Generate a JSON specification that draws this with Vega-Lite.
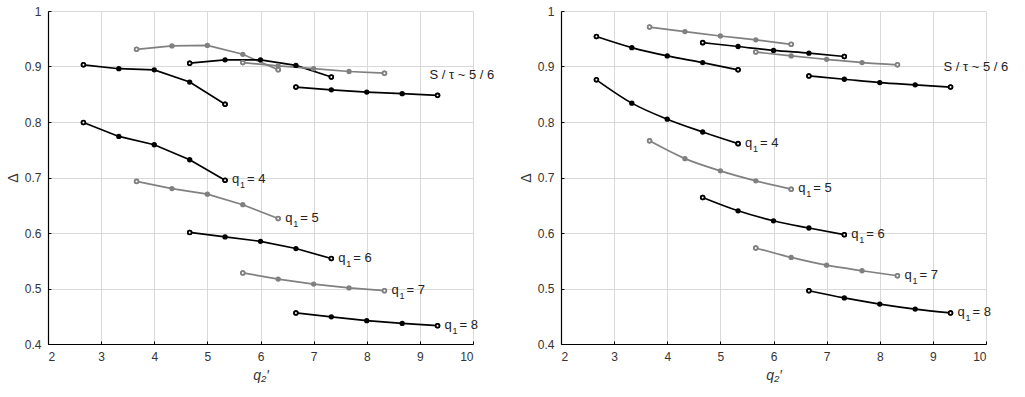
{
  "$schema": "https://vega.github.io/schema/vega-lite/v6.json",
  "background": "white",
  "padding": {"left": 6, "top": 5, "right": 5, "bottom": 5},
  "spacing": 88,
  "bounds": "flush",
  "config": {
    "view": {"stroke": null},
    "font": "Liberation Sans",
    "axis": {
      "domainColor": "#000000", "domainWidth": 1.2,
      "tickColor": "#000000", "tickSize": -3, "tickWidth": 1,
      "gridColor": "#d9d9d9", "gridWidth": 1,
      "labelFont": "Liberation Sans", "labelFontSize": 12, "labelColor": "#333333",
      "titleFont": "Liberation Sans", "titleFontWeight": "normal", "titleColor": "#333333"
    }
  },
  "datasets": {
    "pts": [
      {"panel": "L", "series": "A", "tone": "dark", "q2": 2.667, "delta": 0.903},
      {"panel": "L", "series": "A", "tone": "dark", "q2": 3.333, "delta": 0.896},
      {"panel": "L", "series": "A", "tone": "dark", "q2": 4.0, "delta": 0.894},
      {"panel": "L", "series": "A", "tone": "dark", "q2": 4.667, "delta": 0.872},
      {"panel": "L", "series": "A", "tone": "dark", "q2": 5.333, "delta": 0.832},
      {"panel": "L", "series": "B", "tone": "light", "q2": 3.667, "delta": 0.931},
      {"panel": "L", "series": "B", "tone": "light", "q2": 4.333, "delta": 0.937},
      {"panel": "L", "series": "B", "tone": "light", "q2": 5.0, "delta": 0.938},
      {"panel": "L", "series": "B", "tone": "light", "q2": 5.667, "delta": 0.922},
      {"panel": "L", "series": "B", "tone": "light", "q2": 6.333, "delta": 0.894},
      {"panel": "L", "series": "C", "tone": "dark", "q2": 4.667, "delta": 0.906},
      {"panel": "L", "series": "C", "tone": "dark", "q2": 5.333, "delta": 0.912},
      {"panel": "L", "series": "C", "tone": "dark", "q2": 6.0, "delta": 0.912},
      {"panel": "L", "series": "C", "tone": "dark", "q2": 6.667, "delta": 0.902},
      {"panel": "L", "series": "C", "tone": "dark", "q2": 7.333, "delta": 0.881},
      {"panel": "L", "series": "D", "tone": "light", "q2": 5.667, "delta": 0.907},
      {"panel": "L", "series": "D", "tone": "light", "q2": 6.333, "delta": 0.901},
      {"panel": "L", "series": "D", "tone": "light", "q2": 7.0, "delta": 0.896},
      {"panel": "L", "series": "D", "tone": "light", "q2": 7.667, "delta": 0.891},
      {"panel": "L", "series": "D", "tone": "light", "q2": 8.333, "delta": 0.888},
      {"panel": "L", "series": "E", "tone": "dark", "q2": 6.667, "delta": 0.863},
      {"panel": "L", "series": "E", "tone": "dark", "q2": 7.333, "delta": 0.858},
      {"panel": "L", "series": "E", "tone": "dark", "q2": 8.0, "delta": 0.854},
      {"panel": "L", "series": "E", "tone": "dark", "q2": 8.667, "delta": 0.851},
      {"panel": "L", "series": "E", "tone": "dark", "q2": 9.333, "delta": 0.848},
      {"panel": "L", "series": "q4", "tone": "dark", "q2": 2.667, "delta": 0.799},
      {"panel": "L", "series": "q4", "tone": "dark", "q2": 3.333, "delta": 0.774},
      {"panel": "L", "series": "q4", "tone": "dark", "q2": 4.0, "delta": 0.759},
      {"panel": "L", "series": "q4", "tone": "dark", "q2": 4.667, "delta": 0.732},
      {"panel": "L", "series": "q4", "tone": "dark", "q2": 5.333, "delta": 0.695},
      {"panel": "L", "series": "q5", "tone": "light", "q2": 3.667, "delta": 0.693},
      {"panel": "L", "series": "q5", "tone": "light", "q2": 4.333, "delta": 0.680},
      {"panel": "L", "series": "q5", "tone": "light", "q2": 5.0, "delta": 0.670},
      {"panel": "L", "series": "q5", "tone": "light", "q2": 5.667, "delta": 0.651},
      {"panel": "L", "series": "q5", "tone": "light", "q2": 6.333, "delta": 0.626},
      {"panel": "L", "series": "q6", "tone": "dark", "q2": 4.667, "delta": 0.601},
      {"panel": "L", "series": "q6", "tone": "dark", "q2": 5.333, "delta": 0.593},
      {"panel": "L", "series": "q6", "tone": "dark", "q2": 6.0, "delta": 0.585},
      {"panel": "L", "series": "q6", "tone": "dark", "q2": 6.667, "delta": 0.572},
      {"panel": "L", "series": "q6", "tone": "dark", "q2": 7.333, "delta": 0.554},
      {"panel": "L", "series": "q7", "tone": "light", "q2": 5.667, "delta": 0.528},
      {"panel": "L", "series": "q7", "tone": "light", "q2": 6.333, "delta": 0.517},
      {"panel": "L", "series": "q7", "tone": "light", "q2": 7.0, "delta": 0.508},
      {"panel": "L", "series": "q7", "tone": "light", "q2": 7.667, "delta": 0.501},
      {"panel": "L", "series": "q7", "tone": "light", "q2": 8.333, "delta": 0.496},
      {"panel": "L", "series": "q8", "tone": "dark", "q2": 6.667, "delta": 0.456},
      {"panel": "L", "series": "q8", "tone": "dark", "q2": 7.333, "delta": 0.449},
      {"panel": "L", "series": "q8", "tone": "dark", "q2": 8.0, "delta": 0.442},
      {"panel": "L", "series": "q8", "tone": "dark", "q2": 8.667, "delta": 0.437},
      {"panel": "L", "series": "q8", "tone": "dark", "q2": 9.333, "delta": 0.433},

      {"panel": "R", "series": "A", "tone": "dark", "q2": 2.667, "delta": 0.954},
      {"panel": "R", "series": "A", "tone": "dark", "q2": 3.333, "delta": 0.934},
      {"panel": "R", "series": "A", "tone": "dark", "q2": 4.0, "delta": 0.919},
      {"panel": "R", "series": "A", "tone": "dark", "q2": 4.667, "delta": 0.907},
      {"panel": "R", "series": "A", "tone": "dark", "q2": 5.333, "delta": 0.894},
      {"panel": "R", "series": "B", "tone": "light", "q2": 3.667, "delta": 0.971},
      {"panel": "R", "series": "B", "tone": "light", "q2": 4.333, "delta": 0.963},
      {"panel": "R", "series": "B", "tone": "light", "q2": 5.0, "delta": 0.955},
      {"panel": "R", "series": "B", "tone": "light", "q2": 5.667, "delta": 0.948},
      {"panel": "R", "series": "B", "tone": "light", "q2": 6.333, "delta": 0.940},
      {"panel": "R", "series": "C", "tone": "dark", "q2": 4.667, "delta": 0.943},
      {"panel": "R", "series": "C", "tone": "dark", "q2": 5.333, "delta": 0.936},
      {"panel": "R", "series": "C", "tone": "dark", "q2": 6.0, "delta": 0.929},
      {"panel": "R", "series": "C", "tone": "dark", "q2": 6.667, "delta": 0.924},
      {"panel": "R", "series": "C", "tone": "dark", "q2": 7.333, "delta": 0.918},
      {"panel": "R", "series": "D", "tone": "light", "q2": 5.667, "delta": 0.926},
      {"panel": "R", "series": "D", "tone": "light", "q2": 6.333, "delta": 0.919},
      {"panel": "R", "series": "D", "tone": "light", "q2": 7.0, "delta": 0.913},
      {"panel": "R", "series": "D", "tone": "light", "q2": 7.667, "delta": 0.907},
      {"panel": "R", "series": "D", "tone": "light", "q2": 8.333, "delta": 0.903},
      {"panel": "R", "series": "E", "tone": "dark", "q2": 6.667, "delta": 0.883},
      {"panel": "R", "series": "E", "tone": "dark", "q2": 7.333, "delta": 0.877},
      {"panel": "R", "series": "E", "tone": "dark", "q2": 8.0, "delta": 0.871},
      {"panel": "R", "series": "E", "tone": "dark", "q2": 8.667, "delta": 0.867},
      {"panel": "R", "series": "E", "tone": "dark", "q2": 9.333, "delta": 0.863},
      {"panel": "R", "series": "q4", "tone": "dark", "q2": 2.667, "delta": 0.876},
      {"panel": "R", "series": "q4", "tone": "dark", "q2": 3.333, "delta": 0.834},
      {"panel": "R", "series": "q4", "tone": "dark", "q2": 4.0, "delta": 0.805},
      {"panel": "R", "series": "q4", "tone": "dark", "q2": 4.667, "delta": 0.782},
      {"panel": "R", "series": "q4", "tone": "dark", "q2": 5.333, "delta": 0.761},
      {"panel": "R", "series": "q5", "tone": "light", "q2": 3.667, "delta": 0.766},
      {"panel": "R", "series": "q5", "tone": "light", "q2": 4.333, "delta": 0.734},
      {"panel": "R", "series": "q5", "tone": "light", "q2": 5.0, "delta": 0.712},
      {"panel": "R", "series": "q5", "tone": "light", "q2": 5.667, "delta": 0.694},
      {"panel": "R", "series": "q5", "tone": "light", "q2": 6.333, "delta": 0.679},
      {"panel": "R", "series": "q6", "tone": "dark", "q2": 4.667, "delta": 0.664},
      {"panel": "R", "series": "q6", "tone": "dark", "q2": 5.333, "delta": 0.640},
      {"panel": "R", "series": "q6", "tone": "dark", "q2": 6.0, "delta": 0.622},
      {"panel": "R", "series": "q6", "tone": "dark", "q2": 6.667, "delta": 0.609},
      {"panel": "R", "series": "q6", "tone": "dark", "q2": 7.333, "delta": 0.597},
      {"panel": "R", "series": "q7", "tone": "light", "q2": 5.667, "delta": 0.573},
      {"panel": "R", "series": "q7", "tone": "light", "q2": 6.333, "delta": 0.556},
      {"panel": "R", "series": "q7", "tone": "light", "q2": 7.0, "delta": 0.542},
      {"panel": "R", "series": "q7", "tone": "light", "q2": 7.667, "delta": 0.532},
      {"panel": "R", "series": "q7", "tone": "light", "q2": 8.333, "delta": 0.523},
      {"panel": "R", "series": "q8", "tone": "dark", "q2": 6.667, "delta": 0.496},
      {"panel": "R", "series": "q8", "tone": "dark", "q2": 7.333, "delta": 0.483},
      {"panel": "R", "series": "q8", "tone": "dark", "q2": 8.0, "delta": 0.472},
      {"panel": "R", "series": "q8", "tone": "dark", "q2": 8.667, "delta": 0.463},
      {"panel": "R", "series": "q8", "tone": "dark", "q2": 9.333, "delta": 0.456}
    ],
    "qlabels": [
      {"panel": "L", "q2": 5.333, "delta": 0.695, "rhs": "= 4"},
      {"panel": "L", "q2": 6.333, "delta": 0.626, "rhs": "= 5"},
      {"panel": "L", "q2": 7.333, "delta": 0.554, "rhs": "= 6"},
      {"panel": "L", "q2": 8.333, "delta": 0.496, "rhs": "= 7"},
      {"panel": "L", "q2": 9.333, "delta": 0.433, "rhs": "= 8"},
      {"panel": "R", "q2": 5.333, "delta": 0.761, "rhs": "= 4"},
      {"panel": "R", "q2": 6.333, "delta": 0.679, "rhs": "= 5"},
      {"panel": "R", "q2": 7.333, "delta": 0.597, "rhs": "= 6"},
      {"panel": "R", "q2": 8.333, "delta": 0.523, "rhs": "= 7"},
      {"panel": "R", "q2": 9.333, "delta": 0.456, "rhs": "= 8"}
    ],
    "notes": [
      {"panel": "L", "q2": 9.18, "delta": 0.885, "text": "S / τ ~ 5 / 6"},
      {"panel": "R", "q2": 9.2, "delta": 0.899, "text": "S / τ ~ 5 / 6"}
    ]
  },
  "hconcat": [
    {
      "width": 425, "height": 333,
      "transform": [],
      "encoding": {
        "x": {"field": "q2", "type": "quantitative", "scale": {"domain": [2, 10], "nice": false},
              "axis": {"values": [2,3,4,5,6,7,8,9,10], "format": "d", "title": "q₂′", "titleFontStyle": "italic", "titleFontSize": 14, "labelPadding": 10, "titlePadding": 6}},
        "y": {"field": "delta", "type": "quantitative", "scale": {"domain": [0.4, 1], "nice": false, "zero": false},
              "axis": {"values": [0.4,0.5,0.6,0.7,0.8,0.9,1], "format": "~g", "title": "Δ", "titleFontSize": 14, "labelPadding": 10, "titlePadding": 4}}
      },
      "layer": [
        {
          "data": {"name": "pts"},
          "transform": [{"filter": "datum.panel === 'L'"}],
          "mark": {"type": "line", "strokeWidth": 1.7},
          "encoding": {
            "detail": {"field": "series"},
            "order": {"field": "q2", "type": "quantitative"},
            "color": {"field": "tone", "type": "nominal", "scale": {"domain": ["dark", "light"], "range": ["#000000", "#808080"]}, "legend": null}
          }
        },
        {
          "data": {"name": "pts"},
          "transform": [{"filter": "datum.panel === 'L'"}],
          "mark": {"type": "circle", "size": 28, "opacity": 1},
          "encoding": {"color": {"field": "tone", "type": "nominal", "legend": null}}
        },
        {
          "data": {"name": "pts"},
          "transform": [
            {"filter": "datum.panel === 'L'"},
            {"joinaggregate": [{"op": "min", "field": "q2", "as": "lo"}, {"op": "max", "field": "q2", "as": "hi"}], "groupby": ["series"]},
            {"filter": "datum.q2 === datum.lo || datum.q2 === datum.hi"}
          ],
          "mark": {"type": "point", "shape": "circle", "size": 14, "fill": "white", "filled": false, "strokeWidth": 1.8, "opacity": 1},
          "encoding": {"stroke": {"field": "tone", "type": "nominal", "scale": {"domain": ["dark", "light"], "range": ["#000000", "#808080"]}, "legend": null}}
        },
        {
          "data": {"name": "qlabels"},
          "transform": [{"filter": "datum.panel === 'L'"}],
          "mark": {"type": "text", "text": "q", "align": "left", "baseline": "middle", "dx": 7, "dy": -1, "fontSize": 13, "color": "#222222"}
        },
        {
          "data": {"name": "qlabels"},
          "transform": [{"filter": "datum.panel === 'L'"}],
          "mark": {"type": "text", "text": "1", "align": "left", "baseline": "middle", "dx": 15, "dy": 5, "fontSize": 9, "color": "#222222"}
        },
        {
          "data": {"name": "qlabels"},
          "transform": [{"filter": "datum.panel === 'L'"}],
          "mark": {"type": "text", "align": "left", "baseline": "middle", "dx": 22, "dy": -1, "fontSize": 13, "color": "#222222"},
          "encoding": {"text": {"field": "rhs"}}
        },
        {
          "data": {"name": "notes"},
          "transform": [{"filter": "datum.panel === 'L'"}],
          "mark": {"type": "text", "align": "left", "baseline": "middle", "fontSize": 13, "color": "#222222"},
          "encoding": {"text": {"field": "text"}}
        }
      ]
    },
    {
      "width": 425, "height": 333,
      "encoding": {
        "x": {"field": "q2", "type": "quantitative", "scale": {"domain": [2, 10], "nice": false},
              "axis": {"values": [2,3,4,5,6,7,8,9,10], "format": "d", "title": "q₂′", "titleFontStyle": "italic", "titleFontSize": 14, "labelPadding": 10, "titlePadding": 6}},
        "y": {"field": "delta", "type": "quantitative", "scale": {"domain": [0.4, 1], "nice": false, "zero": false},
              "axis": {"values": [0.4,0.5,0.6,0.7,0.8,0.9,1], "format": "~g", "title": "Δ", "titleFontSize": 14, "labelPadding": 10, "titlePadding": 4}}
      },
      "layer": [
        {
          "data": {"name": "pts"},
          "transform": [{"filter": "datum.panel === 'R'"}],
          "mark": {"type": "line", "strokeWidth": 1.7, "interpolate": "monotone"},
          "encoding": {
            "detail": {"field": "series"},
            "order": {"field": "q2", "type": "quantitative"},
            "color": {"field": "tone", "type": "nominal", "scale": {"domain": ["dark", "light"], "range": ["#000000", "#808080"]}, "legend": null}
          }
        },
        {
          "data": {"name": "pts"},
          "transform": [{"filter": "datum.panel === 'R'"}],
          "mark": {"type": "circle", "size": 28, "opacity": 1},
          "encoding": {"color": {"field": "tone", "type": "nominal", "legend": null}}
        },
        {
          "data": {"name": "pts"},
          "transform": [
            {"filter": "datum.panel === 'R'"},
            {"joinaggregate": [{"op": "min", "field": "q2", "as": "lo"}, {"op": "max", "field": "q2", "as": "hi"}], "groupby": ["series"]},
            {"filter": "datum.q2 === datum.lo || datum.q2 === datum.hi"}
          ],
          "mark": {"type": "point", "shape": "circle", "size": 14, "fill": "white", "filled": false, "strokeWidth": 1.8, "opacity": 1},
          "encoding": {"stroke": {"field": "tone", "type": "nominal", "scale": {"domain": ["dark", "light"], "range": ["#000000", "#808080"]}, "legend": null}}
        },
        {
          "data": {"name": "qlabels"},
          "transform": [{"filter": "datum.panel === 'R'"}],
          "mark": {"type": "text", "text": "q", "align": "left", "baseline": "middle", "dx": 7, "dy": -1, "fontSize": 13, "color": "#222222"}
        },
        {
          "data": {"name": "qlabels"},
          "transform": [{"filter": "datum.panel === 'R'"}],
          "mark": {"type": "text", "text": "1", "align": "left", "baseline": "middle", "dx": 15, "dy": 5, "fontSize": 9, "color": "#222222"}
        },
        {
          "data": {"name": "qlabels"},
          "transform": [{"filter": "datum.panel === 'R'"}],
          "mark": {"type": "text", "align": "left", "baseline": "middle", "dx": 22, "dy": -1, "fontSize": 13, "color": "#222222"},
          "encoding": {"text": {"field": "rhs"}}
        },
        {
          "data": {"name": "notes"},
          "transform": [{"filter": "datum.panel === 'R'"}],
          "mark": {"type": "text", "align": "left", "baseline": "middle", "fontSize": 13, "color": "#222222"},
          "encoding": {"text": {"field": "text"}}
        }
      ]
    }
  ]
}
